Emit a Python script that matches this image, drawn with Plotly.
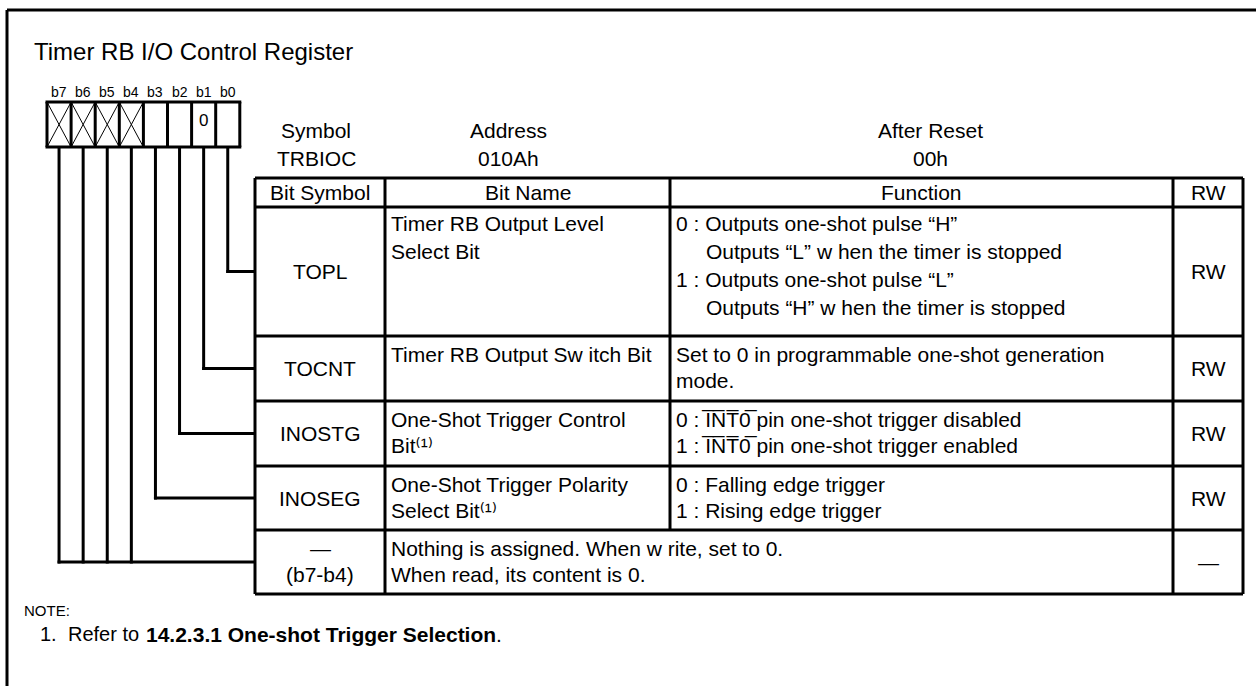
import plotly.graph_objects as go

W, H = 1256, 686

# ---------------- data ----------------
title_text = "Timer RB I/O Control Register"
bit_labels = ["b7", "b6", "b5", "b4", "b3", "b2", "b1", "b0"]
bit_values = ["", "", "", "", "", "", "0", ""]
bit_reserved = [True, True, True, True, False, False, False, False]

header_labels = ["Symbol", "Address", "After Reset"]
header_values = ["TRBIOC", "010Ah", "00h"]

col_titles = ["Bit Symbol", "Bit Name", "Function", "RW"]
bit_symbols = [["TOPL"], ["TOCNT"], ["INOSTG"], ["INOSEG"], ["—", "(b7-b4)"]]
SUP1 = "\u207d\u00b9\u207e"
bit_names = [
    ["Timer RB Output Level", "Select Bit"],
    ["Timer RB Output Sw itch Bit"],
    ["One-Shot Trigger Control", "Bit" + SUP1],
    ["One-Shot Trigger Polarity", "Select Bit" + SUP1],
    [],
]
OL = "I\u0305N\u0305T\u03050\u0305"
functions = [
    ["0 : Outputs one-shot pulse “H”",
     "Outputs “L” w hen the timer is stopped",
     "1 : Outputs one-shot pulse “L”",
     "Outputs “H” w hen the timer is stopped"],
    ["Set to 0 in programmable one-shot generation", "mode."],
    ["0 : " + OL + " pin one-shot trigger disabled", "1 : " + OL + " pin one-shot trigger enabled"],
    ["0 : Falling edge trigger", "1 : Rising edge trigger"],
    ["Nothing is assigned. When w rite, set to 0.", "When read, its content is 0."],
]
rw_values = ["RW", "RW", "RW", "RW", "—"]
row_bits = [[0], [1], [2], [3], [7, 6, 5, 4]]
merged_row = [False, False, False, False, True]

note_title = "NOTE:"
note_number = "1."
note_text = "Refer to"
note_bold = "14.2.3.1 One-shot Trigger Selection"
note_end = "."

# ---------------- layout geometry ----------------
FONT = "Liberation Sans, Arial, DejaVu Sans, sans-serif"
BLK = "#000000"
LW = 3
TS = 21  # table font size

frame_x, frame_y = 7, 10
title_pos = (32, 51)

box_x0, box_y0, box_y1, cell_w = 47, 102, 147, 24.1
label_y = 92

cols = [255, 385, 670, 1173, 1243]
header_top, header_bot = 178, 207
row_edges = [207, 336, 401, 466, 530, 594]
first_line = [16, 18, 18, 18, 18]
line_gap = [28, 26, 26, 26, 26]
indent = 30  # continuation lines under "0 : " / "1 : "

sym_label_x = [316, 508, 930]
sym_label_y, sym_value_y = 130, 158

note_y = [610, 634]

shapes = []
ann = []


def line(x0, y0, x1, y1, w=LW):
    shapes.append(dict(type="line", xref="x", yref="y", x0=x0, y0=y0, x1=x1, y1=y1,
                       line=dict(color=BLK, width=w)))


def text(x, y, s, size, xanchor="left", yanchor="middle"):
    ann.append(dict(x=x, y=y, xref="x", yref="y", text=s, showarrow=False,
                    xanchor=xanchor, yanchor=yanchor,
                    font=dict(family=FONT, size=size, color=BLK)))


# outer frame (open on right and bottom)
line(frame_x, frame_y, W + 5, frame_y)
line(frame_x, frame_y, frame_x, H + 5)

text(title_pos[0], title_pos[1], title_text, 24)

# bit boxes
n = len(bit_labels)
cx = [box_x0 + cell_w * (i + 0.5) for i in range(n)]
for i in range(n):
    xl = box_x0 + cell_w * i
    xr = xl + cell_w
    text(cx[i], label_y, bit_labels[i], 14, "center")
    if bit_reserved[i]:
        line(xl, box_y0, xr, box_y1, 1)
        line(xl, box_y1, xr, box_y0, 1)
    if bit_values[i]:
        text(cx[i], (box_y0 + box_y1) / 2 - 4, bit_values[i], 17, "center")
for i in range(n + 1):
    xx = box_x0 + cell_w * i
    line(xx, box_y0, xx, box_y1)
line(box_x0 - 1.5, box_y0, box_x0 + cell_w * n + 1.5, box_y0)
line(box_x0 - 1.5, box_y1, box_x0 + cell_w * n + 1.5, box_y1)

# symbol / address / after reset
for i in range(3):
    text(sym_label_x[i], sym_label_y, header_labels[i], TS, "center")
    text(sym_label_x[i], sym_value_y, header_values[i], TS, "center")

# table header
x_left, x_right = cols[0], cols[-1]
line(x_left, header_top, x_right, header_top)
line(x_left, header_bot, x_right, header_bot)
for j in range(4):
    text((cols[j] + cols[j + 1]) / 2, (header_top + header_bot) / 2, col_titles[j], TS, "center")

# rows
for r in range(len(bit_symbols)):
    top, bot = row_edges[r], row_edges[r + 1]
    mid = (top + bot) / 2
    line(x_left, bot, x_right, bot)
    nlines = max(len(functions[r]), 2)
    ys = [top + first_line[r] + k * line_gap[r] for k in range(nlines)]
    syms = bit_symbols[r]
    if len(syms) == 1:
        text((cols[0] + cols[1]) / 2, mid, syms[0], TS, "center")
    else:
        for k, s in enumerate(syms):
            text((cols[0] + cols[1]) / 2, ys[k], s, TS, "center")
    for k, s in enumerate(bit_names[r]):
        text(cols[1] + 4, ys[k], s, TS)
    fx = cols[1] + 4 if merged_row[r] else cols[2] + 4
    for k, s in enumerate(functions[r]):
        cont = r == 0 and k % 2 == 1
        text(fx + (indent if cont else 0), ys[k], s, TS)
    text((cols[3] + cols[4]) / 2, mid, rw_values[r], TS, "center")
    for j in range(len(cols)):
        if merged_row[r] and j == 2:
            continue
        line(cols[j], top, cols[j], bot)
    bits = row_bits[r]
    xs = [cx[7 - b] for b in bits]
    for xx in xs:
        line(xx, box_y1, xx, mid + LW / 2)
    line(min(xs) - LW / 2, mid, x_left, mid)

for j in range(len(cols)):
    line(cols[j], header_top, cols[j], header_bot)

# notes
text(22, note_y[0], note_title, 15)
text(38, note_y[1], note_number, 20)
text(66, note_y[1], note_text, 20)
text(144, note_y[1], "<b>" + note_bold + "</b>" + note_end, 21)

fig = go.Figure()
fig.update_layout(
    width=W, height=H,
    margin=dict(l=0, r=0, t=0, b=0),
    paper_bgcolor="white", plot_bgcolor="white",
    xaxis=dict(range=[0, W], visible=False, fixedrange=True),
    yaxis=dict(range=[H, 0], visible=False, fixedrange=True),
    shapes=shapes, annotations=ann, showlegend=False,
)
fig.write_html("out.html", include_plotlyjs=True, config={"displayModeBar": False},
               post_script="document.body.style.margin='0';document.body.style.overflow='hidden';")
